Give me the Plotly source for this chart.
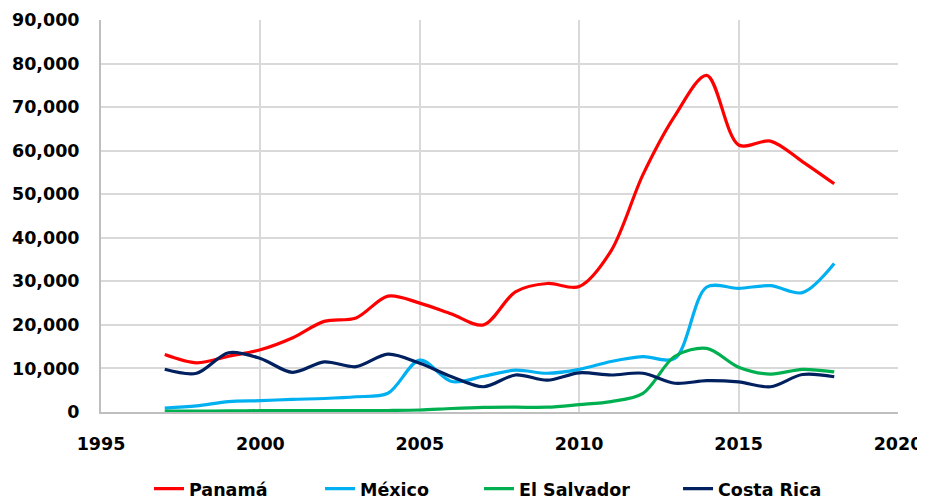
import plotly.graph_objects as go

years = list(range(1997, 2019))

panama = [13200, 11300, 12800, 14300, 17000, 20800, 21600, 26600, 25000, 22500,
          20000, 27600, 29500, 28800, 37000, 54500, 68000, 77300, 61300, 62200,
          57500, 52400]
mexico = [900, 1400, 2400, 2600, 2900, 3100, 3500, 4300, 11900, 7000,
          8200, 9600, 8900, 9800, 11600, 12700, 12300, 28700, 28400, 29000,
          27400, 34100]
el_salvador = [200, 200, 250, 300, 300, 300, 300, 350, 460, 800,
               1050, 1100, 1100, 1700, 2400, 4300, 12800, 14600, 10300, 8700,
               9800, 9200]
costa_rica = [9800, 8900, 13600, 12300, 9100, 11500, 10400, 13300, 11200, 8100,
              5800, 8500, 7300, 9000, 8500, 8900, 6600, 7200, 6900, 5800,
              8600, 8100]

series = [
    ("Panamá", panama, "#FF0000"),
    ("México", mexico, "#00B0F0"),
    ("El Salvador", el_salvador, "#00B050"),
    ("Costa Rica", costa_rica, "#002060"),
]

FONT = "DejaVu Sans"
legend_ids = ["legend", "legend2", "legend3", "legend4"]
legend_x = [0.0602, 0.2748, 0.4743, 0.7240]

fig = go.Figure()
for (name, vals, col), lid in zip(series, legend_ids):
    fig.add_trace(go.Scatter(
        x=years, y=vals, name=name, mode="lines", legend=lid,
        line=dict(color=col, width=3.2, shape="spline", smoothing=0.9),
    ))

legend_style = dict(
    orientation="h", yanchor="middle", y=-0.196, xanchor="left",
    font=dict(family=FONT, size=17.5, color="#000000", weight="bold"),
    bgcolor="rgba(0,0,0,0)",
)
legends = {lid: dict(legend_style, x=lx) for lid, lx in zip(legend_ids, legend_x)}

# page body adds an 8px offset, so the figure is sized 917x491
fig.update_layout(
    width=917, height=491,
    margin=dict(l=93, r=27, t=12, b=87, autoexpand=False),
    paper_bgcolor="white", plot_bgcolor="white",
    font=dict(family=FONT, size=17, color="#000000"),
    showlegend=True,
    **legends,
)
fig.update_xaxes(
    range=[1995, 2020], dtick=5, tick0=1995,
    showgrid=True, gridcolor="#D9D9D9", gridwidth=2,
    showline=True, linecolor="#BFBFBF", linewidth=2,
    zeroline=False, ticks="", automargin=False,
    ticklabelstandoff=15,
    tickfont=dict(family=FONT, size=17.5, color="#000000", weight="bold"),
)
fig.update_yaxes(
    range=[0, 90000], dtick=10000, tick0=0, tickformat=",",
    showgrid=True, gridcolor="#D9D9D9", gridwidth=2,
    showline=True, linecolor="#BFBFBF", linewidth=2,
    zeroline=False, ticks="", automargin=False,
    ticklabelstandoff=16,
    tickfont=dict(family=FONT, size=17.5, color="#000000", weight="bold"),
)

fig.write_html("out.html")
